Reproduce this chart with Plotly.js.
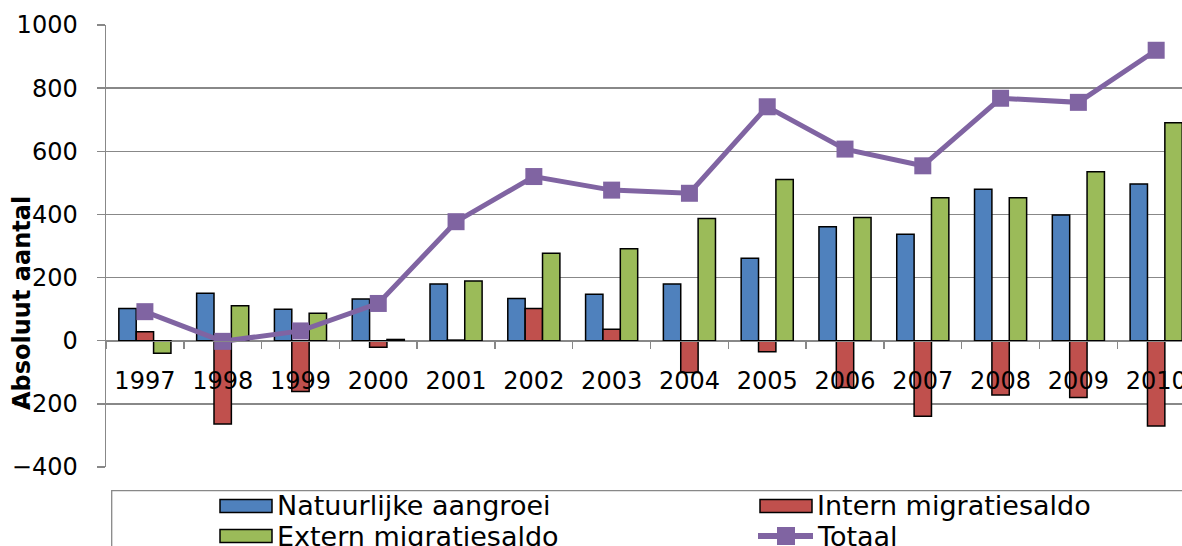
<!DOCTYPE html>
<html><head><meta charset="utf-8">
<script src="https://cdn.plot.ly/plotly-3.0.1.min.js"></script>
<style>html,body{margin:0;padding:0;background:#fff;}#chart{width:1182px;height:546px;}</style>
</head><body><div id="chart"></div>
<script>
const years = ['1997','1998','1999','2000','2001','2002','2003','2004','2005','2006','2007','2008','2009','2010'];
const natuurlijkeAangroei = [102,150,100,132,180,134,147,180,261,361,337,480,398,496];
const internMigratiesaldo = [28,-264,-161,-21,2,102,36,-101,-35,-148,-239,-172,-180,-270];
const externMigratiesaldo = [-40,111,87,4,189,277,291,387,511,390,453,453,535,690];
const totaal = [92,-2,31,118,377,520,477,467,741,607,554,768,755,920];
const yTitle = 'Absoluut aantal';
const names = ['Natuurlijke aangroei','Intern migratiesaldo','Extern migratiesaldo','Totaal'];
const colors = ['#4F81BD','#C0504D','#9BBB59','#8064A2'];

const W = 1182, H = 546;
const M = {l:106, r:0, t:25, b:79};
const yRange = [-400, 1000];
const plotW = W - M.l - M.r, plotH = H - M.t - M.b;
const catW = 77.79;
const xRange = [-0.5, -0.5 + plotW / catW];
const px = v => (v - M.l) / plotW;
const py = v => (H - M.b - v) / plotH;
const grid = '#888888';
const font = 'DejaVu Sans, Verdana, sans-serif';

const barTrace = (vals, i) => ({
  type:'bar', x: years, y: vals, name: names[i],
  marker:{color: colors[i], line:{color:'#000', width:1.5}},
  showlegend:false, hoverinfo:'skip'
});
const data = [
  barTrace(natuurlijkeAangroei,0),
  barTrace(internMigratiesaldo,1),
  barTrace(externMigratiesaldo,2),
  {type:'scatter', mode:'lines+markers', x: years, y: totaal, name: names[3],
   line:{color: colors[3], width:5}, marker:{symbol:'square', size:17, color: colors[3]},
   showlegend:false, cliponaxis:false}
];

// custom legend (swatch shapes + text)
const legendRows = [[0,1],[2,3]];
const colX = [220, 760];
const rowY = [506, 536];
const shapes = [{type:'rect', xref:'paper', yref:'paper', x0: px(111.7), x1: px(1300), y0: py(490.7), y1: py(700),
  line:{color:grid, width:1.3}, fillcolor:'rgba(0,0,0,0)', layer:'above'}];
const annotations = [{
  text: yTitle, textangle:-90, xref:'paper', yref:'paper', x: px(22), y: py(303),
  xanchor:'center', yanchor:'middle', showarrow:false,
  font:{family:font, size:24, color:'#000', weight:'bold'}
}];
legendRows.forEach((row, r) => row.forEach((idx, c) => {
  const x0 = colX[c], yc = rowY[r];
  if (idx < 3) {
    shapes.push({type:'rect', xref:'paper', yref:'paper', x0: px(x0), x1: px(x0+52), y0: py(yc-6.5), y1: py(yc+6.5),
      fillcolor: colors[idx], line:{color:'#000', width:1.5}});
  } else {
    shapes.push({type:'line', xref:'paper', yref:'paper', x0: px(x0-2), x1: px(x0+53), y0: py(yc), y1: py(yc),
      line:{color: colors[idx], width:6}});
    shapes.push({type:'rect', xref:'paper', yref:'paper', x0: px(x0+17), x1: px(x0+35), y0: py(yc-9), y1: py(yc+9),
      fillcolor: colors[idx], line:{width:0}});
  }
  annotations.push({text: names[idx], xref:'paper', yref:'paper', x: px(x0+55), y: py(yc),
    xanchor:'left', yanchor:'middle', showarrow:false, font:{family:font, size:27, color:'#000'}});
}));

const layout = {
  width: W, height: H, margin: M, paper_bgcolor:'#fff', plot_bgcolor:'#fff',
  font:{family:font, color:'#000'},
  barmode:'group', bargap:0.33, bargroupgap:0,
  xaxis:{type:'category', range: xRange, anchor:'free', position: (0 - yRange[0])/(yRange[1]-yRange[0]),
    showline:true, linecolor:grid, linewidth:1.5, ticks:'outside', tickson:'boundaries', ticklen:7, tickcolor:grid, tickwidth:1.5,
    showgrid:false, tickfont:{size:24, family:font, color:'#000'}, ticklabelstandoff:18, fixedrange:true},
  yaxis:{range: yRange, dtick:200, showgrid:true, gridcolor:grid, gridwidth:1.5, zeroline:false,
    showline:true, linecolor:grid, linewidth:1.5, ticks:'outside', ticklen:8, tickcolor:grid, tickwidth:1.5,
    tickfont:{size:24, family:font, color:'#000'}, ticklabelstandoff:14, fixedrange:true},
  shapes, annotations, showlegend:false
};
Plotly.newPlot('chart', data, layout, {displayModeBar:false, staticPlot:true});
</script></body></html>
